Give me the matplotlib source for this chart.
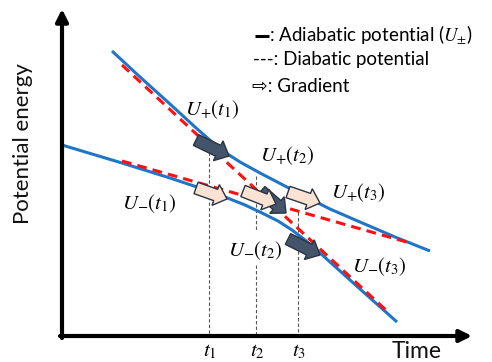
import matplotlib.pyplot as plt
from matplotlib.patches import FancyArrow

plt.rcParams['mathtext.fontset'] = 'stix'
plt.rcParams['font.family'] = ['Lato', 'DejaVu Sans']

# schematic drawn in pixel space (x right, y down)
diabatic_steep_x = [122, 388]
diabatic_steep_y = [65, 312]
diabatic_shallow_x = [122, 410]
diabatic_shallow_y = [161, 243]

upper_x = [112, 140, 170, 195, 212, 226, 240, 260, 283, 310, 330, 360, 395, 430]
upper_y = [51, 77, 104, 127, 142, 153, 162, 173, 185, 199, 209, 222, 237, 251]
lower_x = [62, 122, 170, 200, 225, 245, 262, 278, 292, 305, 318, 330, 345, 360, 397]
lower_y = [145, 163, 178, 188, 197, 205, 213, 221, 230, 240, 251, 262, 275.5, 289, 322]

# gradient arrows: tail x, tail y, tip x, tip y
dark_arrows = [(196, 140, 229, 156), (261, 191, 286, 213), (288, 239, 320, 255)]
light_arrows = [(196, 188, 227, 199), (243, 191, 276, 204), (288, 192, 320, 203)]

# time markers: x, y segments
time_x = [209, 256, 298]
time_segments = [[(152, 336)], [(176, 230), (265, 336)], [(212, 336)]]
time_labels = ['$t_1$', '$t_2$', '$t_3$']

state_labels = ['$U_{+}(t_1)$', '$U_{+}(t_2)$', '$U_{+}(t_3)$',
                '$U_{-}(t_1)$', '$U_{-}(t_2)$', '$U_{-}(t_3)$']
state_pos = [(212, 110), (287, 156), (358, 193), (149, 204), (255, 251), (379, 267)]

legend_keys = ['', '---', '\u21e8']
legend_texts = [': Adiabatic potential ($U_{\\pm}$)', ': Diabatic potential', ': Gradient']
legend_y = [35, 60, 86]

fig = plt.figure(figsize=(4.92, 3.62), dpi=100)
ax = fig.add_axes([0, 0, 1, 1])
ax.set_xlim(0, 492)
ax.set_ylim(362, 0)
ax.axis('off')

blue = '#1f75c6'
ax.plot(upper_x, upper_y, color=blue, lw=2.2, zorder=2, solid_capstyle='butt', solid_joinstyle='round')
ax.plot(lower_x, lower_y, color=blue, lw=2.2, zorder=2, solid_capstyle='butt', solid_joinstyle='round')
ax.plot(diabatic_steep_x, diabatic_steep_y, color='#ff1010', lw=2.2, ls=(0, (3.2, 2.0)), zorder=3)
ax.plot(diabatic_shallow_x, diabatic_shallow_y, color='#ff1010', lw=2.2, ls=(0, (3.2, 2.0)), zorder=3)

for x, segs in zip(time_x, time_segments):
    for y0, y1 in segs:
        ax.plot([x, x], [y0, y1], color='#555555', lw=0.8, ls=(0, (3, 2)), zorder=1)

def gradient_arrow(x0, y0, x1, y1, fc, z):
    ax.add_patch(FancyArrow(x0, y0, x1 - x0, y1 - y0, width=12, head_width=22,
                            head_length=12, length_includes_head=True,
                            fc=fc, ec='#2a3442', lw=1.0, zorder=z))

for a in dark_arrows:
    gradient_arrow(*a, '#44546a', 5)
for a in light_arrows:
    gradient_arrow(*a, '#fbe2d2', 6)

# axes with arrow heads
ax.annotate('', xy=(62, 9), xytext=(62, 338),
            arrowprops=dict(arrowstyle='-|>', lw=3, color='black', mutation_scale=18, shrinkA=0, shrinkB=0))
ax.annotate('', xy=(472, 336), xytext=(60, 336),
            arrowprops=dict(arrowstyle='-|>', lw=3, color='black', mutation_scale=18, shrinkA=0, shrinkB=0))

for lab, (x, y) in zip(state_labels, state_pos):
    ax.text(x, y, lab, fontsize=15, ha='center', va='center', zorder=7)

for x, lab in zip(time_x, time_labels):
    ax.text(x + 1, 341, lab, fontsize=15, ha='center', va='top')

ax.text(417, 341, 'Time', fontsize=16.5, ha='center', va='top', color='#111111')
ax.text(23, 144, 'Potential energy', fontsize=16, rotation=90, ha='center', va='center', color='#111111')

# legend: solid key drawn as a short thick line
ax.plot([255, 269], [legend_y[0] + 1, legend_y[0] + 1], color='black', lw=2.2, solid_capstyle='butt')
ax.text(269, legend_y[0], legend_texts[0], fontsize=13.5, ha='left', va='center')
ax.text(253, legend_y[1], legend_keys[1] + legend_texts[1], fontsize=13.5, ha='left', va='center')
ax.text(252, legend_y[2], legend_keys[2] + legend_texts[2], fontsize=13.5, ha='left', va='center')

fig.savefig('out.png', dpi=100)
